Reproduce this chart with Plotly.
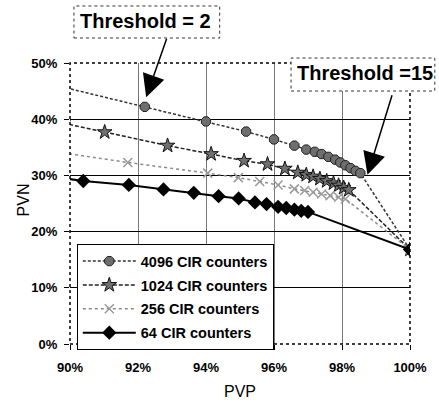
import plotly.graph_objects as go

# Data (PVP %, PVN %)
pvp_4096 = [89.6, 92.2, 94.0, 95.18, 96.0, 96.6, 96.95, 97.2, 97.4, 97.6, 97.8, 97.95, 98.1, 98.25, 98.4, 98.54, 100.0]
pvn_4096 = [46.0, 42.2, 39.6, 37.8, 36.4, 35.3, 34.6, 34.2, 33.8, 33.3, 32.8, 32.3, 31.8, 31.3, 30.8, 30.4, 16.8]

pvp_1024 = [89.8, 91.02, 92.87, 94.15, 95.12, 95.81, 96.32, 96.7, 96.95, 97.15, 97.35, 97.55, 97.75, 97.9, 98.05, 98.2, 100.0]
pvn_1024 = [39.3, 37.7, 35.3, 33.8, 32.6, 32.0, 31.2, 30.5, 30.1, 29.8, 29.4, 29.0, 28.6, 28.2, 27.8, 27.4, 16.8]

pvp_256 = [89.8, 91.7, 94.05, 94.95, 95.58, 96.12, 96.6, 96.9, 97.15, 97.4, 97.65, 97.9, 98.1, 100.0]
pvn_256 = [34.0, 32.3, 30.4, 29.6, 28.9, 28.3, 27.6, 27.3, 27.0, 26.7, 26.4, 26.1, 25.8, 16.8]

pvp_64 = [89.7, 90.39, 91.73, 92.75, 93.64, 94.37, 94.96, 95.44, 95.78, 96.12, 96.36, 96.6, 96.8, 97.0, 100.0]
pvn_64 = [29.6, 29.0, 28.3, 27.5, 26.9, 26.3, 25.9, 25.2, 24.9, 24.4, 24.2, 23.9, 23.7, 23.5, 16.8]

names = ["4096 CIR counters", "1024 CIR counters", "256 CIR counters", "64 CIR counters"]
x_ticks = [90, 92, 94, 96, 98, 100]
x_ticklabels = ["90%", "92%", "94%", "96%", "98%", "100%"]
y_ticks = [0, 10, 20, 30, 40, 50]
y_ticklabels = ["0%", "10%", "20%", "30%", "40%", "50%"]

fig = go.Figure()
fig.add_trace(go.Scatter(x=pvp_4096, y=pvn_4096, name=names[0], mode="lines+markers", legendgroup="a",
                         line=dict(color="#333333", width=1.5, dash="3px,2px"),
                         marker=dict(symbol="octagon", size=10, color="#6e6e6e", line=dict(color="#222222", width=1))))
fig.add_trace(go.Scatter(x=pvp_1024, y=pvn_1024, name=names[1], mode="lines+markers", legendgroup="b",
                         line=dict(color="#222222", width=1.5, dash="4px,2px"),
                         marker=dict(symbol="star", size=11, color="#707070", line=dict(color="#111111", width=1))))
fig.add_trace(go.Scatter(x=pvp_256, y=pvn_256, name=names[2], mode="lines+markers", legendgroup="c",
                         line=dict(color="#8a8a8a", width=1.5, dash="dot"),
                         marker=dict(symbol="x-thin", size=9, color="#999999", line=dict(color="#999999", width=1.5))))
fig.add_trace(go.Scatter(x=pvp_64, y=pvn_64, name=names[3], mode="lines+markers", legendgroup="d",
                         line=dict(color="#000000", width=2),
                         marker=dict(symbol="diamond", size=11, color="#000000")))

W, H = 439, 404
L, R, T, B = 70, 26, 63, 60
pw, ph = W - L - R, H - T - B

def px(x):
    return (x - L) / pw

def py(y):
    return (H - B - y) / ph

tickfont = dict(family="Liberation Sans, Arial", size=13, color="black", weight="bold")

fig.update_layout(
    width=W, height=H,
    margin=dict(l=L, r=R, t=T, b=B),
    paper_bgcolor="white", plot_bgcolor="white",
    font=dict(family="Liberation Sans, Arial", color="black"),
    xaxis=dict(range=[90, 100], tickvals=x_ticks, ticktext=x_ticklabels, showgrid=False,
               ticks="outside", ticklen=5, tickcolor="black", tickfont=tickfont,
               ticklabelstandoff=6, zeroline=False, showline=False,
               minor=dict(tickvals=[92, 94, 96, 98], showgrid=True, gridcolor="#777777", gridwidth=1, ticks="")),
    yaxis=dict(range=[0, 50], tickvals=y_ticks, ticktext=y_ticklabels, showgrid=False,
               ticks="outside", ticklen=5, tickcolor="black", tickfont=tickfont,
               ticklabelstandoff=4, zeroline=False, showline=False,
               minor=dict(tickvals=[10, 20, 30, 40], showgrid=True, gridcolor="#000000", gridwidth=1, ticks="")),
    legend=dict(x=0.02, y=-0.022, xanchor="left", yanchor="bottom", bgcolor="white",
                bordercolor="black", borderwidth=1, itemwidth=53, tracegroupgap=2,
                font=dict(family="Liberation Sans, Arial", size=14.5, color="black", weight="bold")),
    showlegend=True,
)

# plot border (dotted)
fig.add_shape(type="rect", xref="paper", yref="paper", x0=0, x1=1, y0=0, y1=1,
              line=dict(color="black", width=1.5, dash="dot"), layer="above")

# annotation boxes
fig.add_shape(type="rect", xref="paper", yref="paper", x0=px(74), x1=px(221), y0=py(38), y1=py(6),
              line=dict(color="#333333", width=1, dash="dot"), fillcolor="white", layer="above")
fig.add_shape(type="rect", xref="paper", yref="paper", x0=px(293), x1=px(438), y0=py(91), y1=py(58),
              line=dict(color="#333333", width=1, dash="dot"), fillcolor="white", layer="above")

fig.add_annotation(xref="paper", yref="paper", x=px(146), y=py(21), xanchor="center", yanchor="middle",
                   text="<b>Threshold = 2</b>", showarrow=False, font=dict(size=20, color="black"))
fig.add_annotation(xref="paper", yref="paper", x=px(368), y=py(73), xanchor="center", yanchor="middle",
                   text="<b>Threshold =15</b>", showarrow=False, font=dict(size=20, color="black"))

# arrows
fig.add_annotation(x=92.24, y=43.9, ax=21, ay=-60, text="", showarrow=True,
                   arrowhead=2, arrowsize=3, arrowwidth=1.5, arrowcolor="black")
fig.add_annotation(x=98.75, y=30.1, ax=25, ay=-81, text="", showarrow=True,
                   arrowhead=2, arrowsize=3, arrowwidth=1.5, arrowcolor="black")

# axis titles
fig.add_annotation(xref="paper", yref="paper", x=px(242), y=py(392), xanchor="center", yanchor="middle",
                   text="PVP", showarrow=False, font=dict(size=16, color="black"))
fig.add_annotation(xref="paper", yref="paper", x=px(23), y=py(200), xanchor="center", yanchor="middle",
                   text="PVN", showarrow=False, textangle=-90, font=dict(size=16, color="black"))

fig.write_html("out.html")
